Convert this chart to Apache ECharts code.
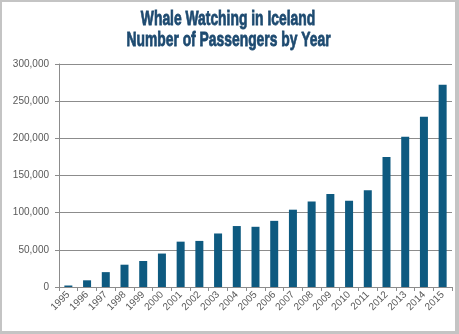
<!DOCTYPE html>
<html>
<head>
<meta charset="utf-8">
<script src="https://cdn.jsdelivr.net/npm/echarts@6/dist/echarts.min.js"></script>
<style>
html,body{margin:0;padding:0;background:#fff;}
#chart{width:459px;height:334px;}
</style>
</head>
<body>
<div id="chart"></div>
<script>
const titleLines = ['Whale Watching in Iceland', 'Number of Passengers by Year'];
const years = ['1995','1996','1997','1998','1999','2000','2001','2002','2003','2004','2005','2006','2007','2008','2009','2010','2011','2012','2013','2014','2015'];
const passengers = [2000, 9000, 20000, 30000, 35000, 45000, 61000, 62000, 72000, 82000, 81000, 89000, 104000, 115000, 125000, 116000, 130000, 175000, 202000, 229000, 272000];
const yTicks = { min: 0, max: 300000, interval: 50000 };

const chart = echarts.init(document.getElementById('chart'), null, {renderer:'canvas'});
const labelFont = "'Liberation Sans', Arial, sans-serif";
const titleStyle = {
  fontFamily: "'Liberation Sans', Arial, sans-serif",
  fontWeight: 'bold',
  fontSize: 21,
  fill: '#1d4a70',
  stroke: '#1d4a70',
  lineWidth: 0.8,
  align: 'center',
  verticalAlign: 'middle'
};
chart.setOption({
  animation: false,
  backgroundColor: '#ffffff',
  graphic: [
    {type:'rect', left:0, top:0, shape:{width:459, height:2}, style:{fill:'#c4c4c4'}},
    {type:'rect', left:0, top:0, shape:{width:2, height:334}, style:{fill:'#c4c4c4'}},
    {type:'rect', left:455, top:0, shape:{width:4, height:334}, style:{fill:'#c4c4c4'}},
    {type:'rect', left:0, top:331, shape:{width:459, height:3}, style:{fill:'#c4c4c4'}},
    {type:'text', x:228, y:19.5, scaleX:0.66, scaleY:1,
      style: Object.assign({text: titleLines[0]}, titleStyle)},
    {type:'text', x:228.5, y:40, scaleX:0.66, scaleY:1,
      style: Object.assign({text: titleLines[1]}, titleStyle)}
  ],
  grid: { left: 59, right: 7, top: 64, bottom: 47, containLabel: false },
  xAxis: {
    type: 'category',
    data: years,
    axisLine: { show: true, lineStyle: { color: '#8c8c8c', width: 1 } },
    axisTick: { show: true, length: 4, lineStyle: { color: '#8c8c8c' } },
    axisLabel: { rotate: 45, margin: 6, fontSize: 10, color: '#595959', fontFamily: labelFont, interval: 0 }
  },
  yAxis: {
    type: 'value',
    min: yTicks.min, max: yTicks.max, interval: yTicks.interval,
    axisLine: { show: true, lineStyle: { color: '#8c8c8c', width: 1 } },
    axisTick: { show: true, length: 4, lineStyle: { color: '#8c8c8c' } },
    splitLine: { show: true, lineStyle: { color: '#8c8c8c', width: 1 } },
    axisLabel: {
      margin: 10, fontSize: 10, color: '#595959', fontFamily: labelFont,
      formatter: v => v.toLocaleString('en-US')
    }
  },
  series: [{
    type: 'bar',
    data: passengers,
    barWidth: 8,
    itemStyle: { color: '#0e5a80' }
  }]
});
</script>
</body>
</html>
